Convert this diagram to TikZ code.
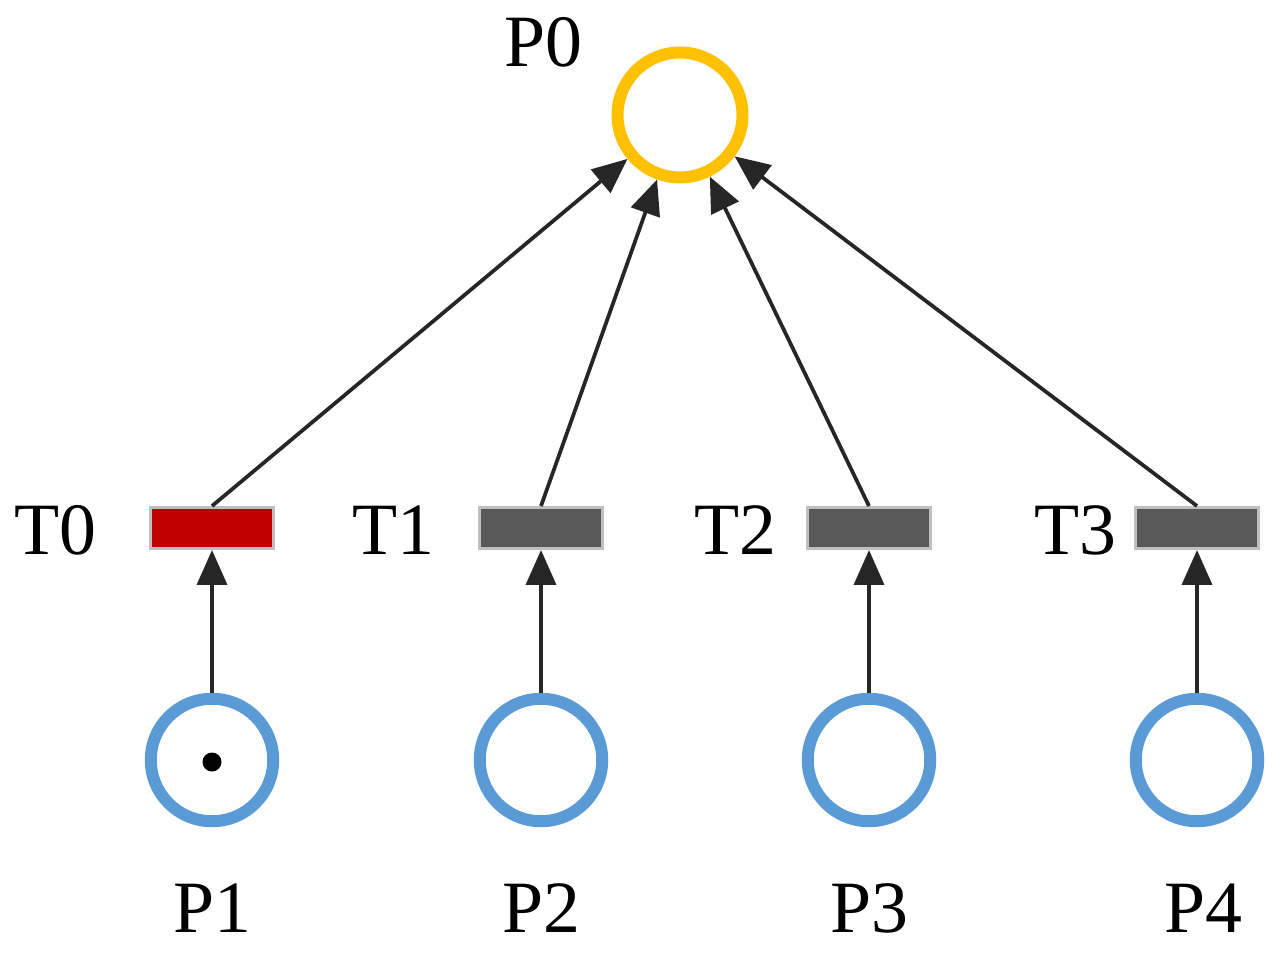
\documentclass[tikz,border=0pt]{standalone}
\usepackage{fontspec}
\setmainfont{Liberation Serif}
\usetikzlibrary{arrows.meta}
\definecolor{pblue}{HTML}{5B9BD5}
\definecolor{pyel}{HTML}{FFC000}
\definecolor{tred}{HTML}{C00000}
\definecolor{tgray}{HTML}{595959}
\begin{document}
\begin{tikzpicture}[x=0.02cm,y=-0.02cm,
  place/.style={circle,draw=pblue,line width=0.24cm,minimum size=2.45cm,inner sep=0pt,outer sep=0.12cm},
  trans/.style={draw=black!25,line width=0.06cm,minimum width=2.45cm,minimum height=0.82cm,inner sep=0pt},
  lab/.style={font=\fontsize{42}{42}\selectfont,inner sep=0pt},
  arc/.style={line width=0.075cm,draw=black!85,-{Triangle[length=0.7cm,width=0.6cm]}}]
\useasboundingbox (0,0) rectangle (1283,960);
\node[place,draw=pyel,minimum size=2.5cm] (p0) at (680,115) {};
\node[lab] (lp0) at (543,42) {P0};
\foreach \i/\x in {1/212,2/541,3/869,4/1197}{
  \node[place] (p\i) at (\x,760) {};
}
\node[lab] (lp1) at (212,908) {P1};
\node[lab] (lp2) at (541,908) {P2};
\node[lab] (lp3) at (869,908) {P3};
\node[lab] (lp4) at (1203,908) {P4};
\node[trans,fill=tred] (t0) at (212,528) {};
\node[trans,fill=tgray] (t1) at (541,528) {};
\node[trans,fill=tgray] (t2) at (869,528) {};
\node[trans,fill=tgray] (t3) at (1197,528) {};
\node[lab] (lt0) at (55,530) {T0};
\node[lab] (lt1) at (393,530) {T1};
\node[lab] (lt2) at (735,530) {T2};
\node[lab] (lt3) at (1075,530) {T3};
\node[circle,fill=black,minimum size=0.38cm,inner sep=0pt] (tok) at (212,762) {};
\foreach \i/\t in {1/0,2/1,3/2,4/3}{
  \draw[arc] (p\i.north) -- (t\t.south);
  \draw[arc] (t\t.north) -- (p0);
}
\end{tikzpicture}
\end{document}
